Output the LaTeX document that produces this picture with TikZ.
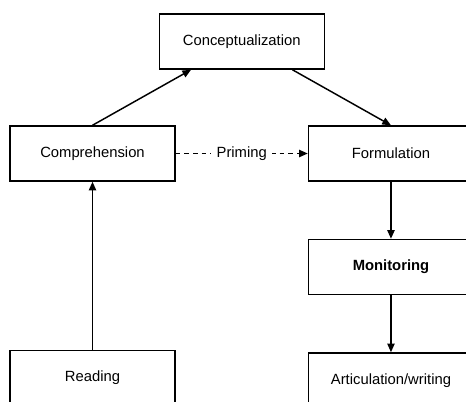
\documentclass[tikz,border=0pt]{standalone}
\usepackage{fontspec}
\setmainfont{Liberation Sans}
\usetikzlibrary{positioning,calc,arrows.meta}
\begin{document}
\begin{tikzpicture}[line width=1.1pt,
    box/.style={draw, minimum width=123.75pt, minimum height=41.25pt,
      inner sep=0pt, font=\fontsize{11.1}{13}\selectfont},
    every edge/.style={draw, -{Triangle[length=6.5pt,width=5.5pt]}}]
  \useasboundingbox (0,0) rectangle (349.5pt,-300.75pt);
  \node[box] (Compr) at (69.375pt,-115.125pt) {Comprehension};
  \node[box, right=99pt of Compr] (Form) {Formulation};
  \node[box] (Concept) at ($(Compr)!0.5!(Form)+(0,84pt)$) {Conceptualization};
  \node[box, below=42.75pt of Form] (Monitor) {\bfseries Monitoring};
  \node[box, below=42.75pt of Monitor] (Artic) {Articulation/writing};
  \node[box, below=126pt of Compr] (Read) {Reading};
  \path (Compr.north) edge ([xshift=-38pt]Concept.south)
        ([xshift=38pt]Concept.south) edge (Form.north)
        (Form) edge (Monitor)
        (Monitor) edge (Artic)
        (Read) edge (Compr);
  % priming link
  \path (Compr) edge[dash pattern=on 3.5pt off 3pt]
    node[fill=white, inner xsep=4pt, font=\fontsize{11.1}{13}\selectfont] (Prime) {Priming} (Form);
\end{tikzpicture}
\end{document}
